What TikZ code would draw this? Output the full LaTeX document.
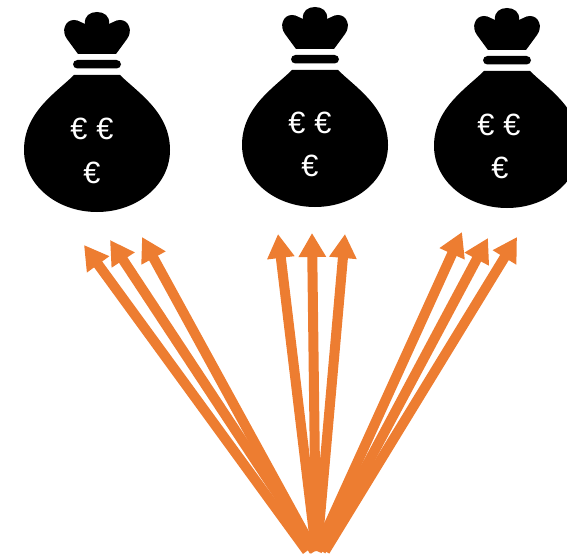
\documentclass[tikz,border=0pt]{standalone}
\usepackage{fontspec}
\setmainfont{Liberation Sans}
\usepackage{xcolor}
\usetikzlibrary{arrows.meta, calc}
\definecolor{fundorange}{HTML}{ED7D31}

\begin{document}
\begin{tikzpicture}[x=0.02cm, y=-0.02cm]
% Styles
\tikzstyle{euro} = [text=white, font=\fontsize{17.5}{17.5}\selectfont, inner sep=0pt]
\tikzstyle{arrow} = [draw=fundorange, line width=0.2cm, -{Triangle[length=0.48cm, width=0.52cm]}]
\tikzset{
  bag/.pic={
    % crown
    \fill[black] (-19,54) -- (19,54) -- (30,39) .. controls (36,31) and (32,20) .. (23,20)
      .. controls (18,20) and (16,23) .. (12,24) .. controls (13,16) and (7,12) .. (0,12)
      .. controls (-7,12) and (-13,16) .. (-12,24) .. controls (-16,23) and (-18,20) .. (-23,20)
      .. controls (-32,20) and (-36,31) .. (-30,39) -- cycle;
    % tie
    \fill[black, rounded corners=2.5pt] (-24,60) rectangle (24,68.5);
    % body
    \fill[black] (-23,75) -- (23,75) .. controls (40,92) and (73,112) .. (73,150)
      .. controls (73,185) and (40,212) .. (0,212) .. controls (-40,212) and (-73,185) .. (-73,150)
      .. controls (-73,112) and (-40,92) .. (-23,75) -- cycle;
  }
}

% Bags
\path[use as bounding box] (0,0) rectangle (567,557);
\pic (bag_left) at (97,0) {bag};
\pic (bag_middle) at (315,-5) {bag};
\pic (bag_right) at (507,-4) {bag};

\node (euro_la) [euro] at (79,129) {€};
\node (euro_lb) [euro] at (105,129) {€};
\node (euro_lc) [euro] at (92,173) {€};
\node (euro_ma) [euro] at (297,123) {€};
\node (euro_mb) [euro] at (323,123) {€};
\node (euro_mc) [euro] at (310,166) {€};
\node (euro_ra) [euro] at (486,125) {€};
\node (euro_rb) [euro] at (512,125) {€};
\node (euro_rc) [euro] at (500,168) {€};

% Arrows
\foreach \name/\x/\y/\fromx in {la/84/245/307, lb/110/240/315, lc/142/237/314, ma/278/234/316, mb/312/233/316, mc/345/234/317, ra/462/232/317, rb/488/238/321, rc/517/237/325}{
  \coordinate (src_\name) at (\fromx,551);
  \coordinate (tip_\name) at (\x,\y);
  \draw [arrow] (src_\name) -- (tip_\name);
}
\end{tikzpicture}
\end{document}
